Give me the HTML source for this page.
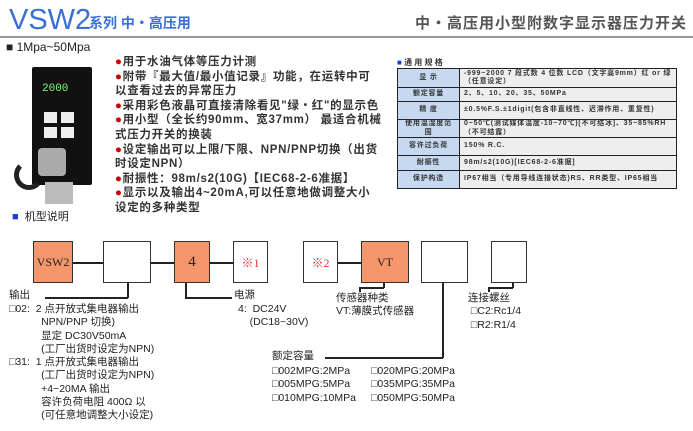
<!DOCTYPE html>
<html><head><meta charset="utf-8"><style>
*{margin:0;padding:0;box-sizing:border-box}
body{width:693px;height:431px;background:#fff;position:relative;overflow:hidden;font-family:"Liberation Sans","Noto Sans CJK SC",sans-serif;color:#222}
.a{position:absolute;white-space:nowrap}
.t{font-size:10.5px;line-height:13.3px}
.box{position:absolute;top:241px;height:42px;border:1px solid #333;background:#fff;font-family:"Liberation Serif","Noto Serif CJK SC",serif;font-size:12px;display:flex;align-items:center;justify-content:center}
.o{background:#f4956a}
.r{color:#e33}
.ln{position:absolute;background:#222}
.bl{font-size:11.5px;line-height:14.6px;font-weight:bold;color:#333;letter-spacing:0.7px}
.dot{color:#c00}
table{border-collapse:collapse;position:absolute;left:397px;top:68px;width:280px;font-size:7px;color:#333;font-weight:bold;letter-spacing:0.8px}
td{border:1.5px solid #222;padding:0 4px;line-height:8.5px}
td.h{background:#c6d9f0;text-align:center;width:62px}
td.v{background:#eeeeee}
</style></head><body>
<div class="a" style="left:9px;top:3px;font-size:29px;color:#3a6fd8;line-height:34px">VSW2</div>
<div class="a" style="left:89px;top:14px;font-size:14px;color:#3a6fd8;font-weight:bold;line-height:18px">系列 中・高压用</div>
<div class="a" style="right:6px;top:12px;font-size:15px;color:#555;font-weight:bold;letter-spacing:1px">中・高压用小型附数字显示器压力开关</div>
<div class="ln" style="left:0;top:36px;width:693px;height:1.5px;background:#999"></div>
<div class="a" style="left:6px;top:40px;font-size:12px">■ 1Mpa~50Mpa</div>
<!-- device -->
<div class="a" style="left:32px;top:67px;width:60px;height:118px;background:#111;border-radius:2px"></div>
<div class="a" style="left:42px;top:83px;width:38px;height:16px;color:#7f7;font-size:11px;font-family:'Liberation Mono',monospace">2000</div>
<div class="a" style="left:44px;top:112px;width:13px;height:11px;background:#eee"></div>
<div class="a" style="left:61px;top:112px;width:13px;height:11px;background:#eee"></div>
<div class="a" style="left:44px;top:127px;width:13px;height:11px;background:#eee"></div>
<div class="a" style="left:61px;top:127px;width:13px;height:11px;background:#eee"></div>
<div class="a" style="left:38px;top:148px;width:28px;height:28px;background:#aaa;border-radius:4px"></div>
<div class="a" style="left:45px;top:182px;width:28px;height:22px;background:#bbb"></div>
<div class="a" style="left:14px;top:160px;width:30px;height:30px;border:5px solid #222;border-radius:50%;border-right-color:transparent;border-top-color:transparent"></div>
<div class="a bl" style="left:115px;top:55px">
<span class="dot">●</span>用于水油气体等压力计测<br>
<span class="dot">●</span>附带『最大值/最小值记录』功能，在运转中可<br>以查看过去的异常压力<br>
<span class="dot">●</span>采用彩色液晶可直接清除看见"绿・红"的显示色<br>
<span class="dot">●</span>用小型（全长约90mm、宽37mm） 最适合机械<br>式压力开关的换装<br>
<span class="dot">●</span>设定输出可以上限/下限、NPN/PNP切换（出货<br>时设定NPN）<br>
<span class="dot">●</span>耐振性：98m/s2(10G)【IEC68-2-6准据】<br>
<span class="dot">●</span>显示以及输出4~20mA,可以任意地做调整大小<br>设定的多种类型</div>
<div class="a" style="left:397px;top:57px;font-size:8px;font-weight:bold;color:#333"><span style="color:#1a3fd8">■</span> 通 用 规 格</div>
<table>
<tr style="height:19px"><td class="h">显 示</td><td class="v">-999~2000 7 段式数 4 位数 LCD（文字高9mm）红 or 绿（任意设定）</td></tr>
<tr style="height:14px"><td class="h">额定容量</td><td class="v">2、5、10、20、35、50MPa</td></tr>
<tr style="height:18px"><td class="h">精 度</td><td class="v">±0.5%F.S.±1digit(包含非直线性、迟滞作用、重复性)</td></tr>
<tr style="height:18px"><td class="h">使用温湿度范围</td><td class="v">0~50℃(测试媒体温度-10~70℃)[不可结冰]、35~85%RH（不可结露）</td></tr>
<tr style="height:18px"><td class="h">容许过负荷</td><td class="v">150% R.C.</td></tr>
<tr style="height:15px"><td class="h">耐振性</td><td class="v">98m/s2(10G)[IEC68-2-6准据]</td></tr>
<tr style="height:18px"><td class="h">保护构造</td><td class="v">IP67相当（专用导线连接状态)RS、RR类型、IP65相当</td></tr>
</table>
<div class="a" style="left:12px;top:208px;font-size:11px"><span style="color:#1a3fd8">■</span>&nbsp; 机型说明</div>
<!-- boxes -->
<div class="ln" style="left:72px;top:262px;width:31px;height:1.5px"></div>
<div class="ln" style="left:151px;top:262px;width:23px;height:1.5px"></div>
<div class="ln" style="left:210px;top:262px;width:23px;height:1.5px"></div>
<div class="ln" style="left:338px;top:262px;width:23px;height:1.5px"></div>
<div class="box o" style="left:33px;width:40px">VSW2</div>
<div class="box" style="left:103px;width:48px"></div>
<div class="box o" style="left:174px;width:36px;font-size:15px">4</div>
<div class="box r" style="left:233px;width:35px">※1</div>
<div class="box r" style="left:303px;width:35px">※2</div>
<div class="box o" style="left:361px;width:48px">VT</div>
<div class="box" style="left:421px;width:47px"></div>
<div class="box" style="left:491px;width:36px"></div>
<!-- connectors -->
<div class="ln" style="left:127px;top:283px;width:1.5px;height:15px"></div>
<div class="ln" style="left:45px;top:297px;width:83px;height:1.5px"></div>
<div class="ln" style="left:185px;top:283px;width:1.5px;height:15px"></div>
<div class="ln" style="left:185px;top:297px;width:47px;height:1.5px"></div>
<div class="ln" style="left:383px;top:283px;width:1.5px;height:5px"></div>
<div class="ln" style="left:359px;top:287px;width:25px;height:1.5px"></div>
<div class="ln" style="left:359px;top:287px;width:1.5px;height:5px"></div>
<div class="ln" style="left:442px;top:283px;width:1.5px;height:75px"></div>
<div class="ln" style="left:325px;top:357px;width:118px;height:1.5px"></div>
<div class="ln" style="left:512px;top:283px;width:1.5px;height:5px"></div>
<div class="ln" style="left:488px;top:287px;width:25px;height:1.5px"></div>
<div class="ln" style="left:488px;top:287px;width:1.5px;height:5px"></div>
<!-- labels -->
<div class="a t" style="left:9px;top:289px">输出</div>
<div class="a t" style="left:9px;top:303px">□02:&nbsp; 2 点开放式集电器输出<br>&nbsp;&nbsp;&nbsp;&nbsp;&nbsp;&nbsp;&nbsp;&nbsp;&nbsp;&nbsp;&nbsp;NPN/PNP 切换)<br>&nbsp;&nbsp;&nbsp;&nbsp;&nbsp;&nbsp;&nbsp;&nbsp;&nbsp;&nbsp;&nbsp;显定 DC30V50mA<br>&nbsp;&nbsp;&nbsp;&nbsp;&nbsp;&nbsp;&nbsp;&nbsp;&nbsp;&nbsp;&nbsp;(工厂出货时设定为NPN)<br>□31:&nbsp; 1 点开放式集电器输出<br>&nbsp;&nbsp;&nbsp;&nbsp;&nbsp;&nbsp;&nbsp;&nbsp;&nbsp;&nbsp;&nbsp;(工厂出货时设定为NPN)<br>&nbsp;&nbsp;&nbsp;&nbsp;&nbsp;&nbsp;&nbsp;&nbsp;&nbsp;&nbsp;&nbsp;+4~20MA 输出<br>&nbsp;&nbsp;&nbsp;&nbsp;&nbsp;&nbsp;&nbsp;&nbsp;&nbsp;&nbsp;&nbsp;容许负荷电阻 400Ω 以<br>&nbsp;&nbsp;&nbsp;&nbsp;&nbsp;&nbsp;&nbsp;&nbsp;&nbsp;&nbsp;&nbsp;(可任意地调整大小设定)</div>
<div class="a t" style="left:234px;top:289px">电源</div>
<div class="a t" style="left:238px;top:303px">4:&nbsp; DC24V<br>&nbsp;&nbsp;&nbsp;&nbsp;(DC18~30V)</div>
<div class="a t" style="left:336px;top:292px">传感器种类<br>VT:薄膜式传感器</div>
<div class="a t" style="left:468px;top:292px">连接螺丝<br>&nbsp;□C2:Rc1/4<br>&nbsp;□R2:R1/4</div>
<div class="a t" style="left:272px;top:350px">额定容量</div>
<div class="a t" style="left:272px;top:365px">□002MPG:2MPa<br>□005MPG:5MPa<br>□010MPG:10MPa</div>
<div class="a t" style="left:371px;top:365px">□020MPG:20MPa<br>□035MPG:35MPa<br>□050MPG:50MPa</div>
</body></html>
